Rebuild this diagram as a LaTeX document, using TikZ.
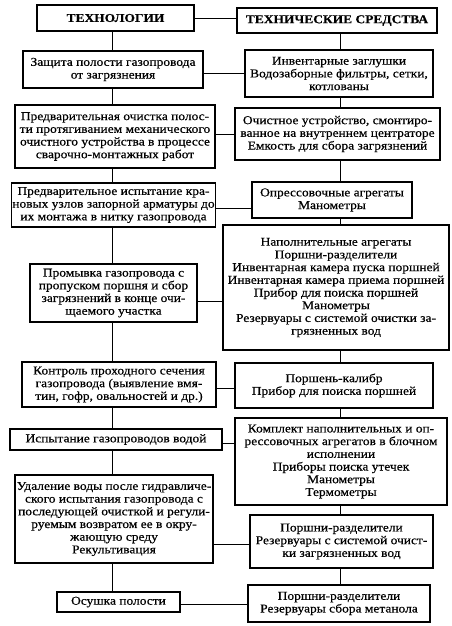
\documentclass[tikz,border=0pt]{standalone}
\usepackage{fontspec}
\setmainfont{Liberation Serif}[FakeStretch=1.12,FakeBold=0.5]
\begin{document}
\begin{tikzpicture}[x=1pt,y=-1pt,
  box/.style={draw, line width=1.1pt, align=center, inner sep=1pt,
    font=\fontsize{12}{12.7}\selectfont},
  head/.style={box, line width=1.8pt, font=\fontsize{12}{14}\selectfont\bfseries},
  link/.style={line width=0.9pt}]
\useasboundingbox (0,0) rectangle (451,626);
\coordinate (tl) at (112,0);
\coordinate (tr) at (340,0);
% left column
\node[head, minimum width=157pt, minimum height=26pt] (L1) at (115.5,18) {ТЕХНОЛОГИИ};
\node[box, minimum width=180pt, minimum height=37pt] (L2) at (113,69.5) {Защита полости газопровода\\от загрязнения};
\node[box, minimum width=200pt, minimum height=63pt] (L3) at (115,136.5) {Предварительная очистка полос-\\ти протягиванием механического\\очистного устройства в процессе\\сварочно-монтажных работ};
\node[box, minimum width=203pt, minimum height=44pt] (L4) at (113.5,205) {Предварительное испытание кра-\\новых узлов запорной арматуры до\\их монтажа в нитку газопровода};
\node[box, minimum width=167pt, minimum height=58pt] (L5) at (113.5,293) {Промывка газопровода с\\пропуском поршня и сбор\\загрязнений в конце очи-\\щаемого участка};
\node[box, minimum width=194pt, minimum height=45pt] (L6) at (119,384.5) {Контроль проходного сечения\\газопровода (выявление вмя-\\тин, гофр, овальностей и др.)};
\node[box, minimum width=212pt, minimum height=21pt] (L7) at (116,439.5) {Испытание газопроводов водой};
\node[box, minimum width=198pt, minimum height=88pt] (L8) at (114,519) {Удаление воды после гидравличе-\\ского испытания газопровода с\\последующей очисткой и регули-\\руемым возвратом ее в окру-\\жающую среду\\Рекультивация};
\node[box, minimum width=123pt, minimum height=20pt] (L9) at (118.5,602) {Осушка полости};
% right column
\node[head, minimum width=200pt, minimum height=25pt] (R1) at (337,20.5) {ТЕХНИЧЕСКИЕ СРЕДСТВА};
\node[box, minimum width=188pt, minimum height=47pt] (R2) at (339,73.5) {Инвентарные заглушки\\Водозаборные фильтры, сетки,\\котлованы};
\node[box, minimum width=205pt, minimum height=52pt] (R3) at (337.5,134) {Очистное устройство, смонтиро-\\ванное на внутреннем центраторе\\Емкость для сбора загрязнений};
\node[box, minimum width=160pt, minimum height=36pt] (R4) at (332,200) {Опрессовочные агрегаты\\Манометры};
\node[box, minimum width=226pt, minimum height=125pt] (R5) at (336,287.5) {Наполнительные агрегаты\\Поршни-разделители\\Инвентарная камера пуска поршней\\Инвентарная камера приема поршней\\Прибор для поиска поршней\\Манометры\\Резервуары с системой очистки за-\\грязненных вод};
\node[box, minimum width=198pt, minimum height=45pt] (R6) at (334,385.5) {Поршень-калибр\\Прибор для поиска поршней};
\node[box, minimum width=212pt, minimum height=87pt] (R7) at (341,461.5) {Комплект наполнительных и оп-\\рессовочных агрегатов в блочном\\исполнении\\Приборы поиска утечек\\Манометры\\Термометры};
\node[box, minimum width=183pt, minimum height=53pt] (R8) at (341.5,541.5) {Поршни-разделители\\Резервуары с системой очист-\\ки загрязненных вод};
\node[box, minimum width=182pt, minimum height=37pt] (R9) at (339,603.5) {Поршни-разделители\\Резервуары сбора метанола};
% trunks
\foreach \a/\b in {L1/L2,L2/L3,L3/L4,L4/L5,L5/L6,L6/L7,L7/L8,L8/L9}
  \draw[link] (\a.south -| tl) -- (\b.north -| tl);
\foreach \a/\b in {R1/R2,R2/R3,R3/R4,R4/R5,R5/R6,R6/R7,R7/R8,R8/R9}
  \draw[link] (\a.south -| tr) -- (\b.north -| tr);
% rows
\foreach \i/\y in {1/18,2/73,3/134,4/208,5/301,6/388,7/443,8/544,9/604}{
  \coordinate (row\i) at (0,\y);
  \draw[link] (L\i.east |- row\i) -- (R\i.west |- row\i);
}
\end{tikzpicture}
\end{document}
